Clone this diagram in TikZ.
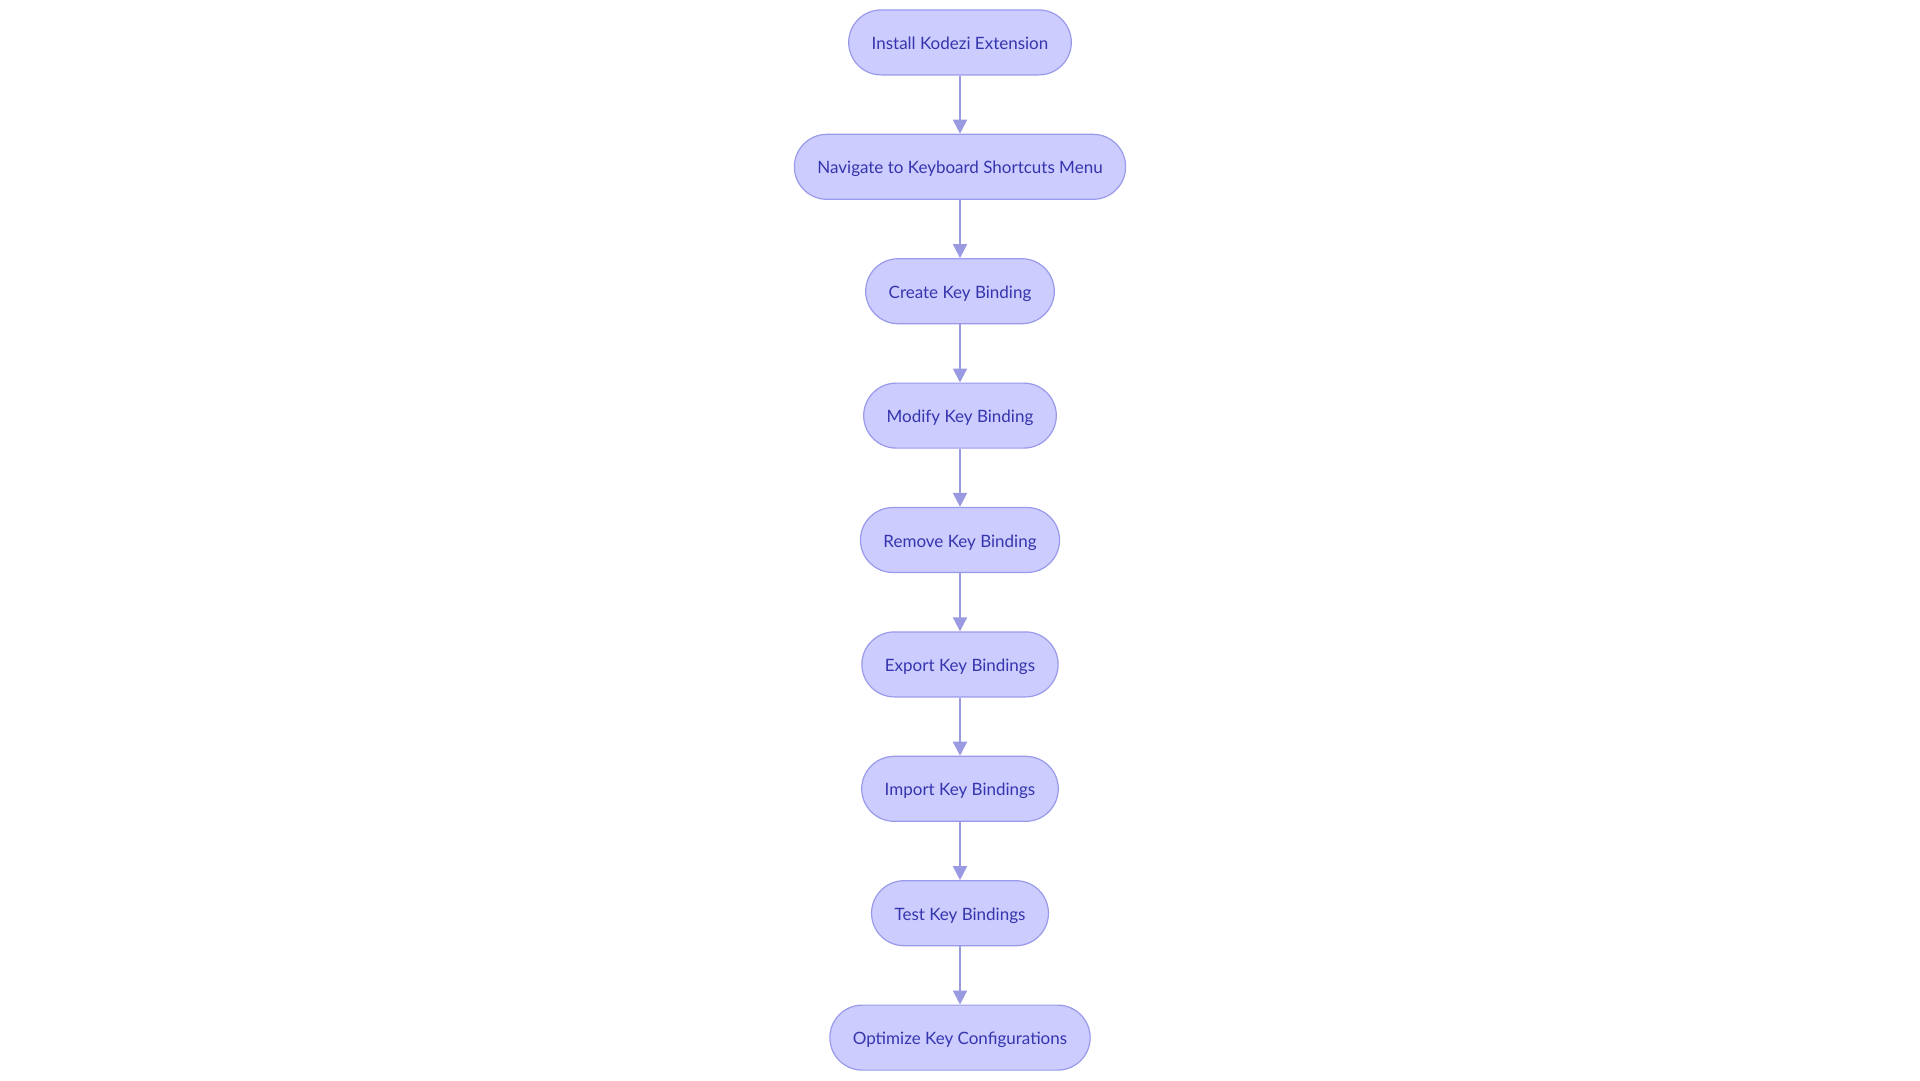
\documentclass[tikz,border=0pt]{standalone}
\usepackage{fontspec}
\setmainfont{Lato}
\usetikzlibrary{arrows.meta}
\definecolor{stepfill}{HTML}{CCCCFF}
\definecolor{stepline}{HTML}{9A9AEA}
\definecolor{steptext}{HTML}{3535AD}
\definecolor{flowline}{HTML}{9A9AE2}
\tikzstyle{stepnode}=[rectangle,rounded corners=32.5pt,minimum height=65pt,inner xsep=23pt,draw=stepline,line width=1.2pt,fill=stepfill,text=steptext,font=\fontsize{17pt}{19pt}\selectfont]

\begin{document}
\begin{tikzpicture}[x=1pt,y=-1pt,>={Triangle[length=14pt,width=14pt]},text height=15pt,text depth=1pt]
  \useasboundingbox (0,0) rectangle (1920,1080);
  \matrix[row sep=58.2pt,inner sep=0pt,anchor=north] at (960,9.1) {
    \node (install) [stepnode] {Install Kodezi Extension}; \\
    \node (navigate) [stepnode] {Navigate to Keyboard Shortcuts Menu}; \\
    \node (create) [stepnode] {Create Key Binding}; \\
    \node (modify) [stepnode] {Modify Key Binding}; \\
    \node (remove) [stepnode] {Remove Key Binding}; \\
    \node (export) [stepnode] {Export Key Bindings}; \\
    \node (import) [stepnode] {Import Key Bindings}; \\
    \node (test) [stepnode] {Test Key Bindings}; \\
    \node (optimize) [stepnode] {Optimize Key Configurations}; \\
  };
  \path[->,draw=flowline,fill=flowline,line width=2pt]
  (install) edge (navigate)
  (navigate) edge (create)
  (create) edge (modify)
  (modify) edge (remove)
  (remove) edge (export)
  (export) edge (import)
  (import) edge (test)
  (test) edge (optimize);
\end{tikzpicture}
\end{document}
